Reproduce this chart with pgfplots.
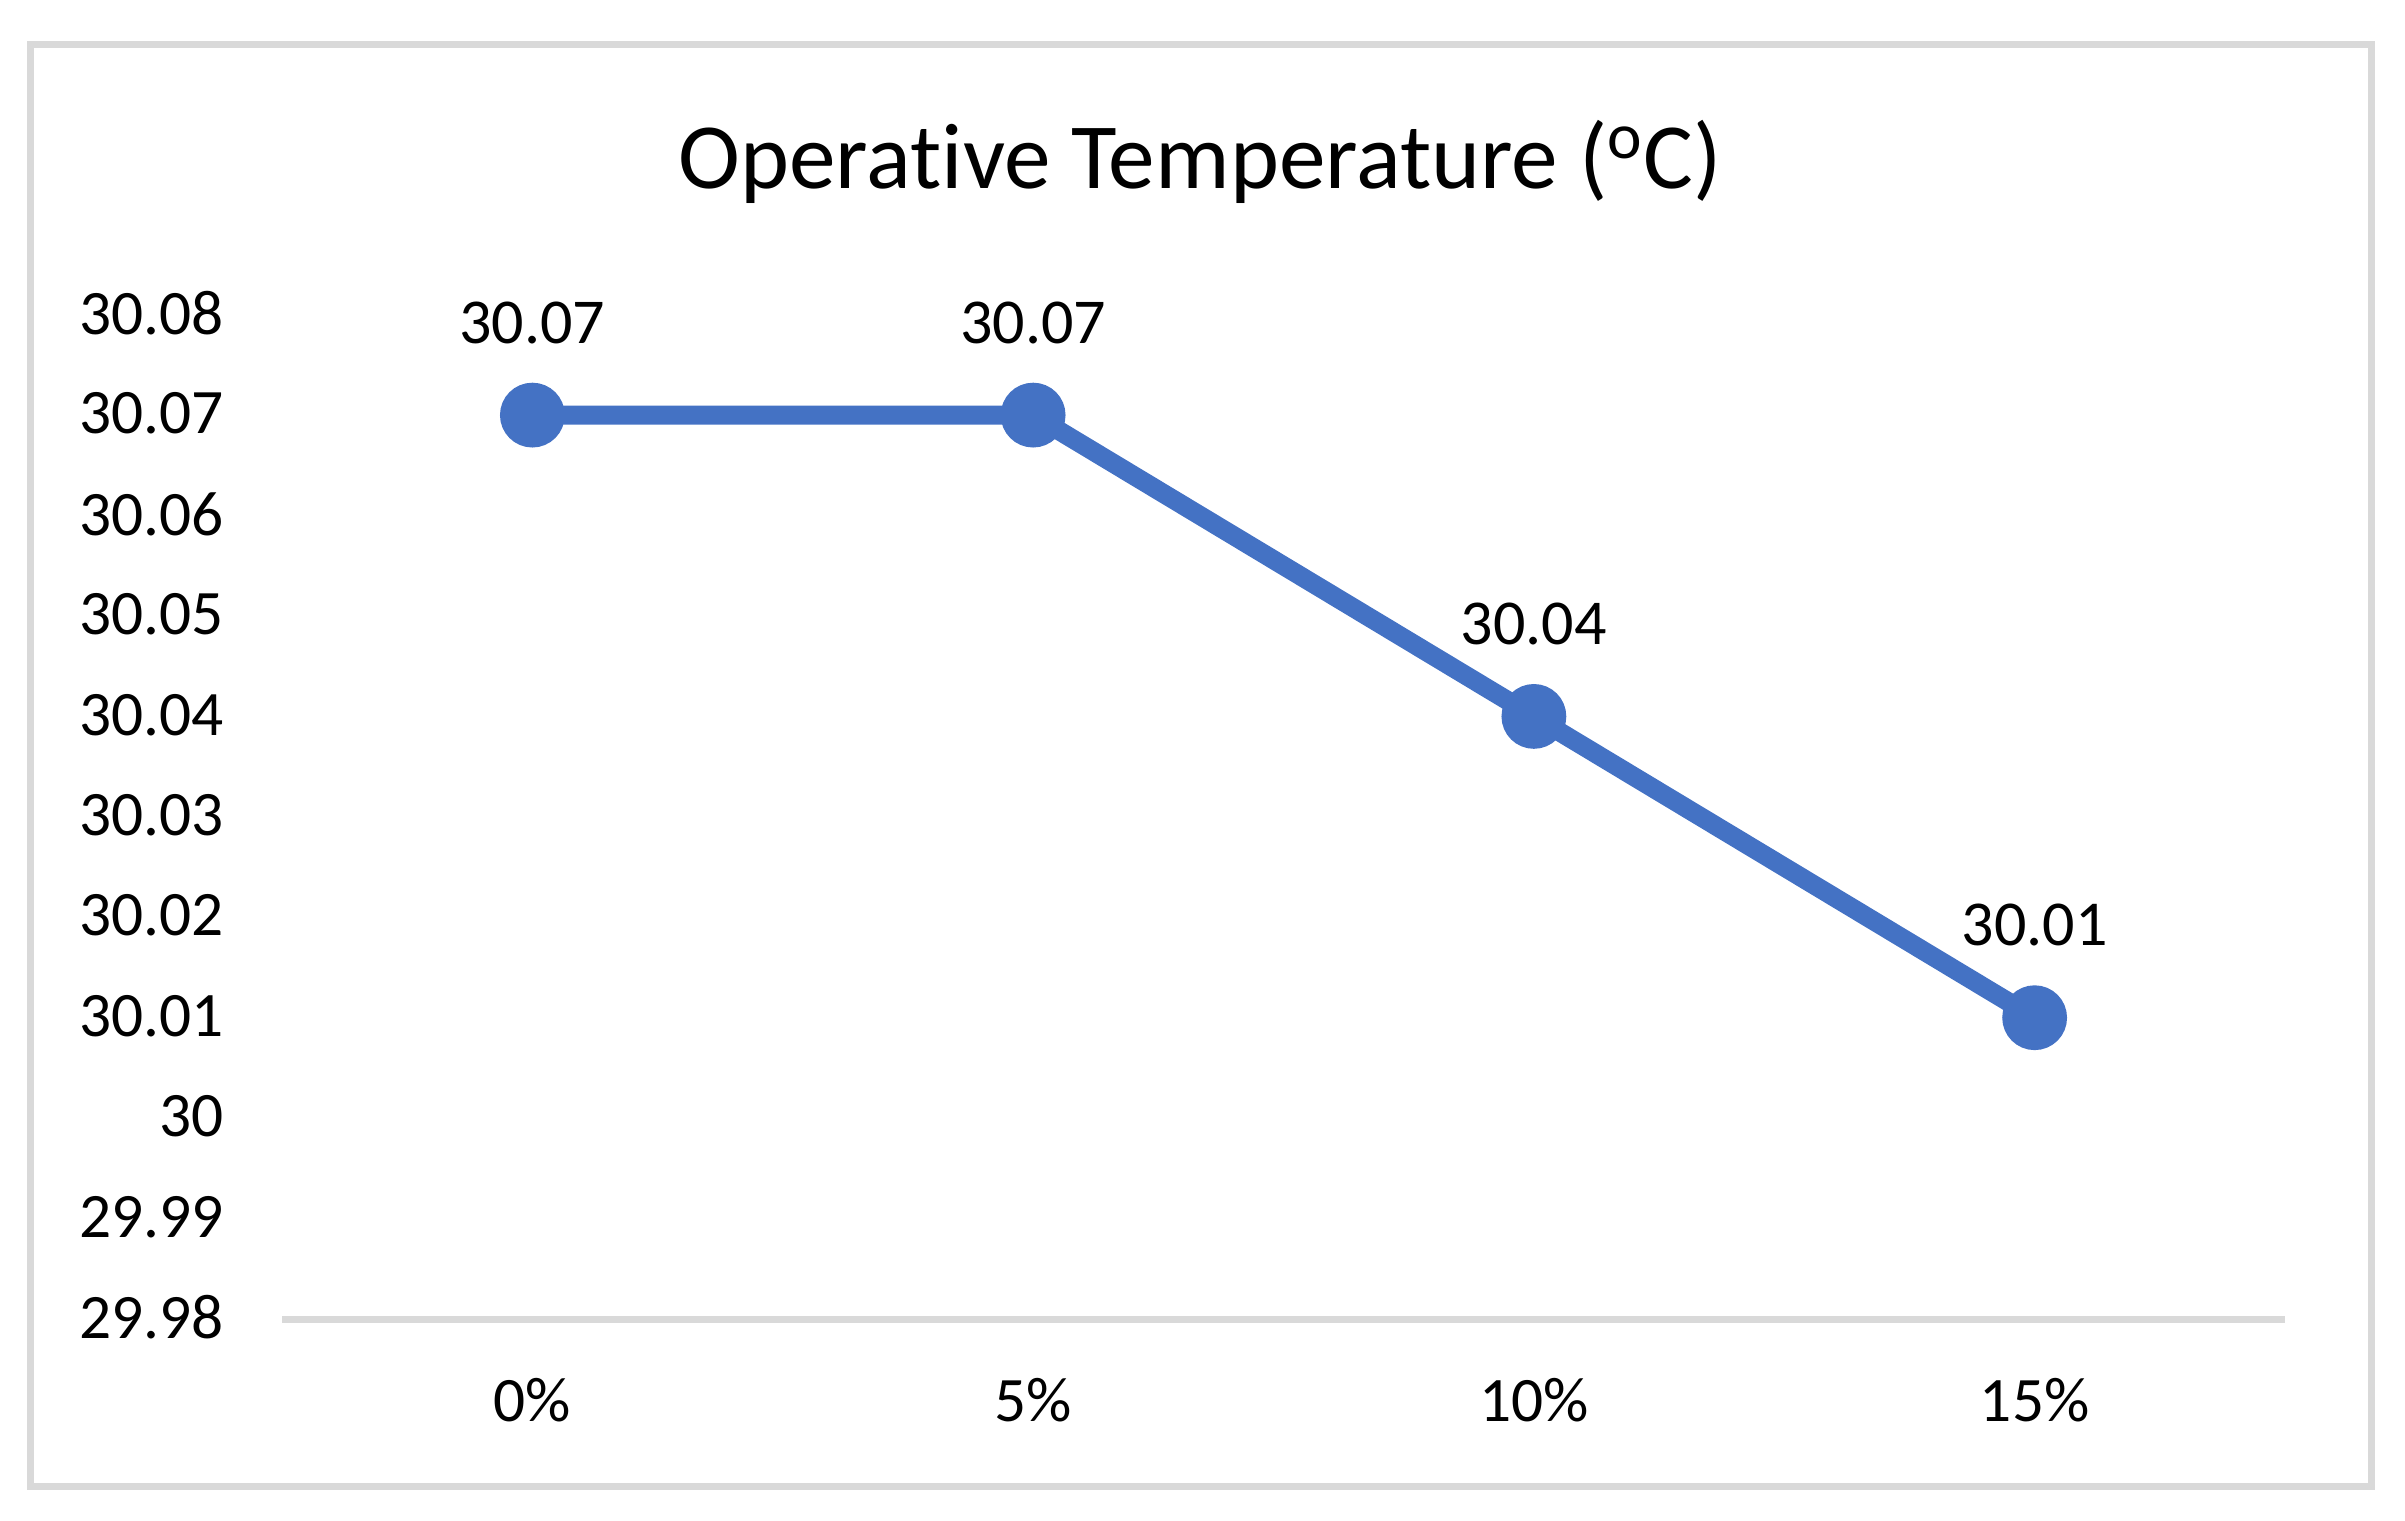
\documentclass[border=0pt]{standalone}
\usepackage{fontspec}
\setmainfont{Carlito}[Ligatures=NoCommon]
\usepackage{pgfplots}
\pgfplotsset{compat=1.18}

\definecolor{excelblue}{HTML}{4472C4}
\definecolor{framegray}{HTML}{D9D9D9}

\begin{document}
\begin{tikzpicture}
    % page: 2405 x 1520 px, 1 px = 0.3pt
    \path (0,0) rectangle (721.5pt,456pt);
    % chart frame
    \draw[framegray, line width=2.1pt] (9.15pt,10.05pt) rectangle (711.45pt,442.65pt);
    % title
    \node[anchor=base, inner sep=0pt, font=\fontsize{28}{33}\selectfont] at (360pt,399.3pt)
        {Operative Temperature (\textsuperscript{o}C)};

    \begin{axis}[
        at={(84.6pt,60.3pt)}, anchor=south west,
        scale only axis,
        width=600.9pt, height=301.3pt,
        xmin=-0.5, xmax=3.5,
        ymin=29.98, ymax=30.08,
        enlargelimits=false,
        xtick={0,1,2,3},
        xticklabels={0\%,5\%,10\%,15\%},
        ytick={29.98,29.99,30,30.01,30.02,30.03,30.04,30.05,30.06,30.07,30.08},
        yticklabels={29.98,29.99,30,30.01,30.02,30.03,30.04,30.05,30.06,30.07,30.08},
        major tick length=0pt,
        axis y line=left,
        y axis line style={draw=none},
        axis x line=bottom,
        x axis line style={-, draw=framegray, line width=2.1pt, line cap=butt},
        tick label style={font=\fontsize{19}{23}\selectfont, inner sep=0pt},
        xticklabel style={anchor=north, yshift=-17.5pt},
        yticklabel style={anchor=east, xshift=-17.3pt, yshift=0.5pt},
        clip=false,
        point meta=explicit symbolic,
        nodes near coords,
        nodes near coords style={anchor=base, inner sep=0pt, yshift=21.6pt,
            font=\fontsize{19.2}{23}\selectfont, text=black},
    ]
    \addplot[excelblue, line width=5.7pt, mark=*, mark size=6.86pt,
        mark options={draw=none, fill=excelblue}] coordinates {
        (0, 30.07) [30.07]
        (1, 30.07) [30.07]
        (2, 30.04) [30.04]
        (3, 30.01) [30.01]
    };
    \end{axis}
\end{tikzpicture}
\end{document}
